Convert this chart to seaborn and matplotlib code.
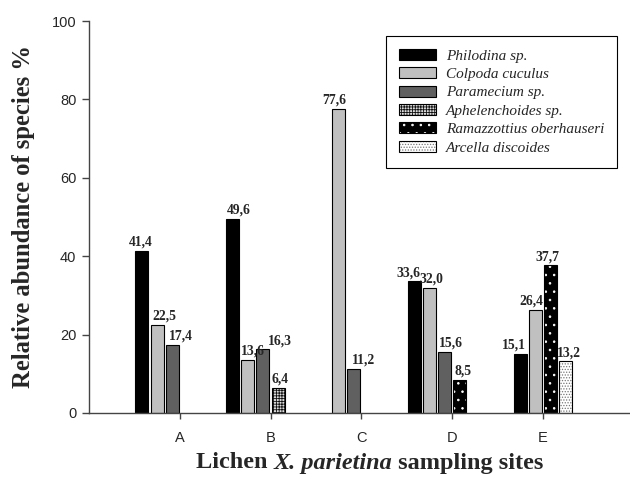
import numpy as np
import pandas as pd
import seaborn as sns
import matplotlib
matplotlib.use("Agg")
import matplotlib.pyplot as plt
import matplotlib.patches as mpatches
from matplotlib.offsetbox import TextArea, HPacker, AnnotationBbox

# ---------------- data ----------------
sites = ["A", "B", "C", "D", "E"]
species = ["Philodina sp.", "Colpoda cuculus", "Paramecium sp.",
           "Aphelenchoides sp.", "Ramazzottius oberhauseri", "Arcella discoides"]
philodina = [41.4, 49.6, None, 33.6, 15.1]
colpoda = [22.5, 13.6, 77.6, 32.0, 26.4]
paramecium = [17.4, 16.3, 11.2, 15.6, None]
aphelenchoides = [None, 6.4, None, None, None]
ramazzottius = [None, None, None, 8.5, 37.7]
arcella = [None, None, None, None, 13.2]
values = dict(zip(species, [philodina, colpoda, paramecium,
                            aphelenchoides, ramazzottius, arcella]))

# order of the bars inside each group (as in the original worksheet)
slot_layout = {
    "A": ["Philodina sp.", "Colpoda cuculus", "Paramecium sp."],
    "B": ["Philodina sp.", "Colpoda cuculus", "Paramecium sp.", "Aphelenchoides sp."],
    "C": [None, "Colpoda cuculus", "Paramecium sp."],
    "D": ["Philodina sp.", "Colpoda cuculus", "Paramecium sp.", "Ramazzottius oberhauseri"],
    "E": [None, "Philodina sp.", "Colpoda cuculus", "Ramazzottius oberhauseri", "Arcella discoides"],
}
n_slots = 6

# horizontal nudges of the value labels (pixels), as placed in the original
label_dx = {
    ("A", 0): -1, ("A", 1): 7, ("A", 2): 9,
    ("B", 0): 6, ("B", 1): 5, ("B", 2): 17, ("B", 3): 2,
    ("C", 1): -4, ("C", 2): 10,
    ("D", 0): -6, ("D", 1): 2, ("D", 2): 6, ("D", 3): 3,
    ("E", 1): -6, ("E", 2): -4, ("E", 3): -3, ("E", 4): 3,
}

rows = []
for i, s in enumerate(sites):
    for k, sp in enumerate(slot_layout[s]):
        if sp is None:
            continue
        v = values[sp][i]
        if v is not None:
            rows.append({"site": s, "slot": k, "species": sp, "value": v})
df = pd.DataFrame(rows)

# ---------------- styles ----------------
styles = {
    "Philodina sp.": dict(face="black", hatch=None, hcol=None),
    "Colpoda cuculus": dict(face="#c0c0c0", hatch=None, hcol=None),
    "Paramecium sp.": dict(face="#606060", hatch=None, hcol=None),
    "Aphelenchoides sp.": dict(face="#dddddd", hatch="++++++", hcol="#111111"),
    "Ramazzottius oberhauseri": dict(face="black", hatch="..", hcol="white"),
    "Arcella discoides": dict(face="white", hatch="......", hcol="#777777"),
}


def apply_style(p, st):
    p.set_facecolor(st["face"])
    p.set_edgecolor("black")
    p.set_linewidth(0.8)
    if st["hatch"]:
        p.set_hatch(st["hatch"])
        if hasattr(p, "set_hatchcolor"):
            p.set_hatchcolor(st["hcol"])
        else:
            p._hatch_color = matplotlib.colors.to_rgba(st["hcol"])


sns.set_style("ticks")
plt.rcParams["font.family"] = ["Liberation Serif", "DejaVu Serif"]
plt.rcParams["hatch.linewidth"] = 0.6

fig = plt.figure(figsize=(6.3, 4.82), dpi=100)
ax = fig.add_axes([89 / 630, (482 - 413) / 482, 1 - 89 / 630, (413 - 21) / 482])

sns.barplot(data=df, x="site", y="value", hue="slot", order=sites,
            hue_order=list(range(n_slots)), dodge=True, width=1.0, gap=0.14,
            palette=["#888888"] * n_slots, saturation=1, legend=False,
            errorbar=None, ax=ax)

for p in list(ax.patches):
    cx = p.get_x() + p.get_width() / 2
    si = int(round(cx))
    k = int(np.floor((cx - si + 0.5) * n_slots))
    layout = slot_layout[sites[si]]
    sp = layout[k] if k < len(layout) else None
    if sp is None:
        continue
    apply_style(p, styles[sp])
    v = p.get_height()
    dx = label_dx.get((sites[si], k), 0) * 0.72
    ax.annotate(f"{v:.1f}".replace(".", ","), (cx, v), xytext=(dx, 1.5),
                textcoords="offset points", ha="center", va="bottom",
                fontsize=9.8, fontweight="bold", family="Liberation Serif")

ax.set_xlim(-1.0, 4.96)
ax.set_ylim(0, 100)
ax.set_yticks([0, 20, 40, 60, 80, 100])
sns.despine(ax=ax)
for sp_ in ["left", "bottom"]:
    ax.spines[sp_].set_color("#444444")
    ax.spines[sp_].set_linewidth(1.0)
ax.tick_params(axis="both", direction="out", color="#444444", length=5, width=1,
               labelsize=10.5, pad=4)
ax.tick_params(axis="x", length=4, pad=9)
for t in ax.get_xticklabels() + ax.get_yticklabels():
    t.set_family(["Liberation Sans", "DejaVu Sans"])

ax.set_xlabel("")
ax.set_ylabel("Relative abundance of species %", fontsize=17.7, fontweight="bold",
              labelpad=12)

# x label with mixed italic
fs = 17.5
parts = [TextArea("Lichen ", textprops=dict(fontsize=fs, fontweight="bold")),
         TextArea("X. parietina", textprops=dict(fontsize=fs, fontweight="bold", style="italic")),
         TextArea(" sampling sites", textprops=dict(fontsize=fs, fontweight="bold"))]
box = HPacker(children=parts, pad=0, sep=0, align="baseline")
ab = AnnotationBbox(box, (370 / 630, 1 - 463 / 482), xycoords="figure fraction",
                    frameon=False, box_alignment=(0.5, 0.5))
fig.add_artist(ab)

# legend
handles = []
for sp in species:
    h = mpatches.Patch(label=sp)
    apply_style(h, styles[sp])
    handles.append(h)
leg = ax.legend(handles=handles, loc="upper right", bbox_to_anchor=(0.976, 0.962),
                frameon=True, fancybox=False, edgecolor="black", framealpha=1,
                prop=dict(family="Liberation Serif", style="italic", size=11),
                handlelength=2.4, handleheight=0.72, labelspacing=0.3,
                borderpad=0.85, handletextpad=0.65, borderaxespad=0)
leg.get_frame().set_linewidth(0.8)

fig.savefig("out.png", dpi=100)
